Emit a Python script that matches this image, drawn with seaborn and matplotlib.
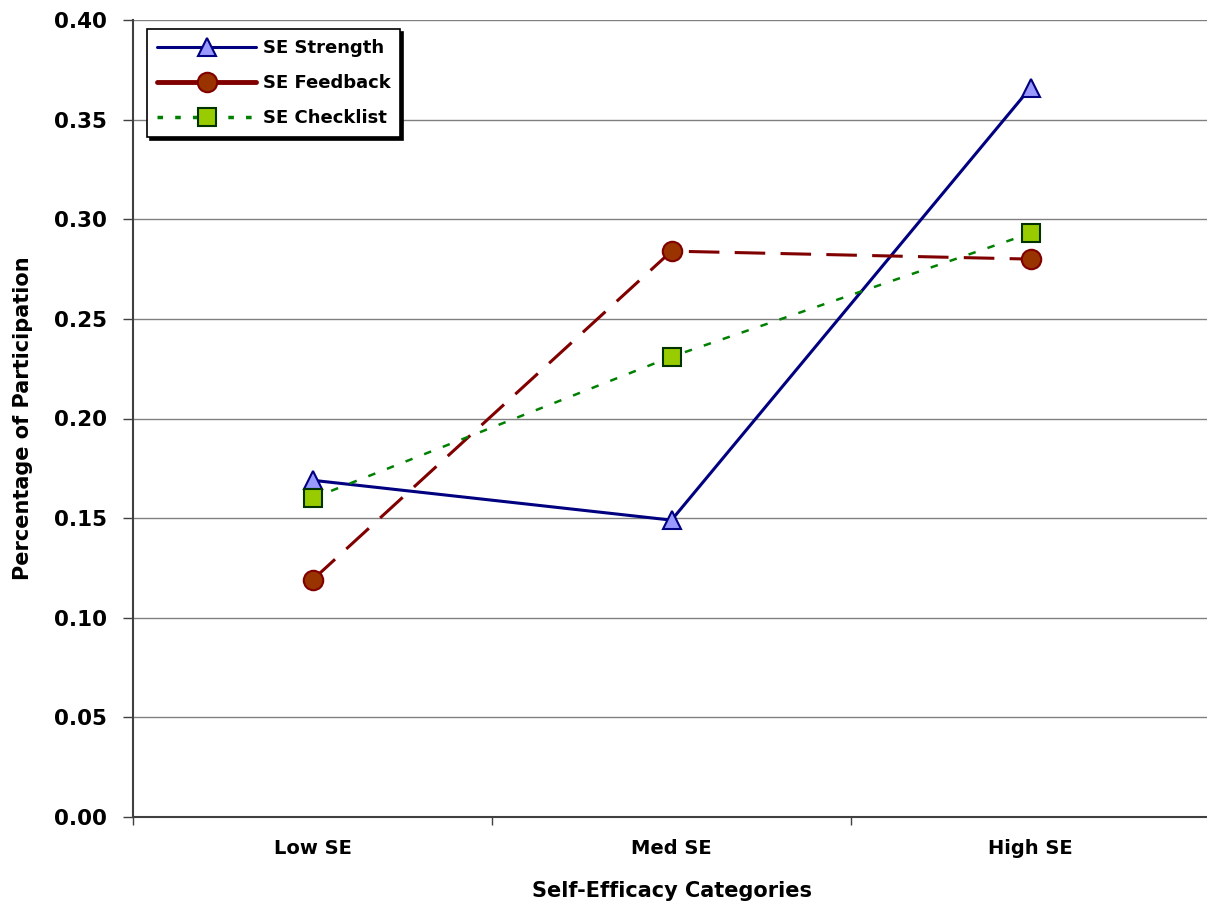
import matplotlib
matplotlib.use("Agg")
import matplotlib.pyplot as plt
from matplotlib.lines import Line2D
import seaborn as sns
import pandas as pd

categories = ["Low SE", "Med SE", "High SE"]
se_strength = [0.169, 0.149, 0.366]
se_feedback = [0.119, 0.284, 0.280]
se_checklist = [0.160, 0.231, 0.293]
series_names = ["SE Strength", "SE Feedback", "SE Checklist"]
y_ticks = [0.00, 0.05, 0.10, 0.15, 0.20, 0.25, 0.30, 0.35, 0.40]

sns.set_theme(style="white")
plt.rcParams['font.family'] = ['DejaVu Sans']
plt.rcParams['font.weight'] = 'bold'
plt.rcParams['text.color'] = 'black'
plt.rcParams['axes.labelcolor'] = 'black'
plt.rcParams['xtick.color'] = 'black'
plt.rcParams['ytick.color'] = 'black'

fig = plt.figure(figsize=(12.07, 9.14), dpi=100)
ax = fig.add_axes([133/1207, 97/914, 1077/1207, 797/914])

df = pd.DataFrame({"cat": categories, "SE Strength": se_strength,
                   "SE Feedback": se_feedback, "SE Checklist": se_checklist})

styles = {
    "SE Strength": dict(color="#000080", lw=2.2, marker="^", ms=13,
                        mfc="#9999FF", mec="#000080", mew=1.5, ls="-"),
    "SE Feedback": dict(color="#800000", lw=2.2, marker="o", ms=14,
                        mfc="#993300", mec="#800000", mew=1.5, ls=(0, (10, 5))),
    "SE Checklist": dict(color="#008000", lw=1.8, marker="s", ms=12.5,
                         mfc="#99CC00", mec="#003300", mew=1.5, ls=(0, (3, 5))),
}

for name in series_names:
    st = styles[name]
    sns.lineplot(data=df, x="cat", y=name, ax=ax, color=st["color"], lw=st["lw"],
                 marker=st["marker"], markersize=st["ms"], markerfacecolor=st["mfc"],
                 markeredgecolor=st["mec"], markeredgewidth=st["mew"],
                 linestyle=st["ls"], sort=False, zorder=3)

ax.set_xlim(-0.5, 2.5)
ax.set_ylim(0, 0.40)
ax.set_yticks(y_ticks)
ax.set_yticklabels([f"{v:.2f}" for v in y_ticks])
ax.set_xticks([0, 1, 2])
ax.set_xticklabels(categories)
ax.set_xticks([-0.5, 0.5, 1.5], minor=True)

ax.yaxis.grid(True, color="#808080", lw=1.0)
ax.xaxis.grid(False)
for s in ["top", "right"]:
    ax.spines[s].set_visible(False)
for s in ["left", "bottom"]:
    ax.spines[s].set_color("#404040")
    ax.spines[s].set_linewidth(1.5)

ax.tick_params(axis="y", which="major", direction="out", length=7.5, width=1,
               color="#404040", pad=11, labelsize=15.5, left=True)
ax.tick_params(axis="x", which="major", length=0, pad=16, labelsize=14, bottom=True)
ax.tick_params(axis="x", which="minor", direction="out", length=6, width=1,
               color="#404040", bottom=True)
for lab in ax.get_xticklabels() + ax.get_yticklabels():
    lab.set_fontweight("bold")

ax.set_xlabel("Self-Efficacy Categories", fontsize=15, fontweight="bold")
ax.set_ylabel("Percentage of Participation", fontsize=15, fontweight="bold")
ax.yaxis.set_label_coords(-100/1077, 0.5)
ax.xaxis.set_label_coords(0.5, -64/797)

handles = [
    Line2D([], [], color="#000080", lw=2.2, marker="^", ms=13, mfc="#9999FF",
           mec="#000080", mew=1.5),
    Line2D([], [], color="#800000", lw=3.5, marker="o", ms=14, mfc="#993300",
           mec="#800000", mew=1.5),
    Line2D([], [], color="#008000", lw=2.5, ls=(0, (1.6, 3.5)), marker="s", ms=12.5,
           mfc="#99CC00", mec="#003300", mew=1.5),
]
leg = ax.legend(handles, series_names, loc="upper left",
                bbox_to_anchor=(14/1077, 1 - 9/797), fontsize=13,
                frameon=True, fancybox=False, shadow={"color": "black", "alpha": 1},
                handlelength=5.5, labelspacing=0.95, borderpad=0.55,
                handletextpad=0.35, borderaxespad=0)
leg.get_frame().set_edgecolor("black")
leg.get_frame().set_linewidth(1.2)
leg.get_frame().set_alpha(1)
for t in leg.get_texts():
    t.set_fontweight("bold")

fig.savefig("out.png", dpi=100, facecolor="white")
